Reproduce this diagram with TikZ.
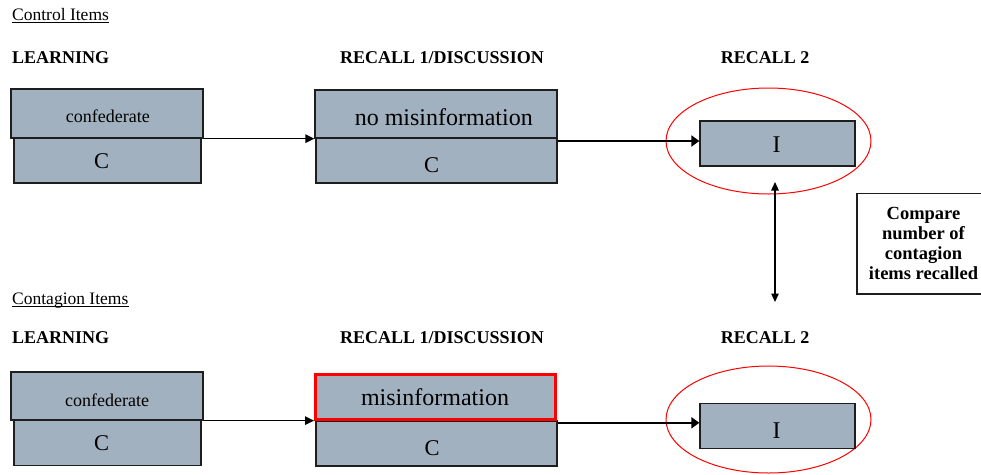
\documentclass[tikz,border=0pt]{standalone}
\usepackage{fontspec}
\setmainfont{Liberation Serif}
\usetikzlibrary{arrows.meta,shapes.geometric,calc}
\definecolor{boxfill}{RGB}{162,177,192}
\definecolor{boxline}{RGB}{30,30,30}
\begin{document}
\begin{tikzpicture}[x=1pt,y=-1pt,
  box/.style={rectangle,draw=boxline,fill=boxfill,line width=1.3pt,inner sep=0pt},
  redbox/.style={rectangle,draw=red,fill=boxfill,line width=3pt,inner sep=0pt},
  oval/.style={ellipse,draw=red,line width=1pt,inner sep=0pt},
  lbl/.style={anchor=base,inner sep=0pt},
  small/.style={lbl,font=\fontsize{18}{20}\selectfont},
  big/.style={lbl,font=\fontsize{24}{26}\selectfont},
  letter/.style={lbl,font=\fontsize{22.5}{24}\selectfont},
  head/.style={lbl,font=\fontsize{18}{20}\selectfont\bfseries},
  title/.style={anchor=base west,inner sep=0pt,font=\fontsize{17.5}{20}\selectfont},
  arr/.style={line width=1.3pt,-{Triangle[length=9pt,width=8.5pt]}},
  arrthick/.style={line width=2.2pt,-{Triangle[length=8pt,width=11pt]}},
  darr/.style={line width=1.3pt,{Triangle[length=8.5pt,width=7.5pt]}-{Triangle[length=8.5pt,width=7.5pt]}}
]
\useasboundingbox (0,0) rectangle (981,474);

% ---------------- Control items ----------------
\node[title] (ci) at (12,20.7) {Control Items};
\draw[line width=0.9pt] ([yshift=-2pt]ci.base west) -- ([yshift=-2pt]ci.base east);

\node[head,anchor=base west] (h1) at (12,63.3) {LEARNING};
\node[head] (h2) at (442,63.3) {RECALL 1/DISCUSSION};
\node[head] (h3) at (765,63.3) {RECALL 2};

\node[box,minimum width=187pt,minimum height=45pt] (L1b) at (107.5,160.5) {};
\node[box,minimum width=192pt,minimum height=49pt] (L1t) at (107,113.5) {};
\node[small] (t1) at (107.9,122.3) {confederate};
\node[letter] (c1) at (101.7,168.3) {C};

\node[box,minimum width=241pt,minimum height=45pt] (R1b) at (436.5,160.5) {};
\node[box,minimum width=242pt,minimum height=48pt] (R1t) at (436,114) {};
\node[big] (t2) at (443.8,125.7) {no misinformation};
\node[letter] (c2) at (431.7,172.7) {C};

\node[oval,minimum width=205pt,minimum height=106pt] (E1) at (768.5,141) {};
\node[box,minimum width=155pt,minimum height=45pt] (I1) at (777.5,143.5) {};
\node[big] (i1) at (776.7,152.7) {I};

\draw[arr] (L1t.south east) -- (L1t.south east -| R1t.west);
\coordinate (a1) at ([yshift=2.5pt]I1.west);
\draw[arrthick] (a1 -| R1t.east) -- (a1);

% ---------------- compare ----------------
\node[rectangle,draw=boxline,line width=1.2pt,minimum width=133pt,minimum height=100.5pt,
      align=center,inner sep=0pt,font=\fontsize{18.5}{20}\selectfont\bfseries]
      (cmp) at (923.5,243.75) {Compare\\number of\\contagion\\items recalled};

\coordinate (d1) at (775,182);
\coordinate (d2) at (775,302);
\draw[darr] (d1) -- (d2);

% ---------------- Contagion items ----------------
\node[title] (gi) at (12,304) {Contagion Items};
\draw[line width=0.9pt] ([yshift=-2pt]gi.base west) -- ([yshift=-2pt]gi.base east);

\node[head,anchor=base west] (h4) at (12,343.3) {LEARNING};
\node[head] (h5) at (442,343.3) {RECALL 1/DISCUSSION};
\node[head] (h6) at (765,343.3) {RECALL 2};

\node[box,minimum width=187pt,minimum height=45pt] (L2b) at (107.5,442.7) {};
\node[box,minimum width=192pt,minimum height=48pt] (L2t) at (107,396) {};
\node[small] (t3) at (107.2,406) {confederate};
\node[letter] (c3) at (101.7,450.7) {C};

\node[box,minimum width=241pt,minimum height=45pt] (R2b) at (436.5,443.5) {};
\node[redbox,minimum width=240pt,minimum height=45pt] (R2t) at (435.5,397) {};
\node[big] (t4) at (435,405.7) {misinformation};
\node[letter] (c4) at (432,455) {C};

\node[oval,minimum width=205pt,minimum height=107pt] (E2) at (768.5,419.5) {};
\node[box,minimum width=155pt,minimum height=45pt] (I2) at (777.5,425.8) {};
\node[big] (i2) at (776.7,438.3) {I};

\draw[arr] (L2t.south east) -- (L2t.south east -| R2t.west);
\coordinate (a2) at ([yshift=3pt]I2.west);
\draw[arrthick] (a2 -| R2b.east) -- (a2);
\end{tikzpicture}
\end{document}
